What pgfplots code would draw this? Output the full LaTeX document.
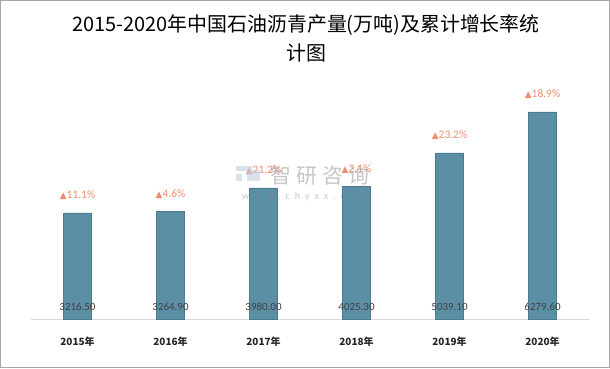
\documentclass[border=0pt]{standalone}
\usepackage{pgfplots}
\pgfplotsset{compat=1.18}
\usepackage{pgfplotstable}
\usepackage{fontspec}
\setmainfont{Carlito}
\newfontfamily\cjk{Noto Sans CJK SC}
\newfontfamily\sym{DejaVu Sans}
\definecolor{barc}{RGB}{91,143,166}
\definecolor{growc}{RGB}{240,140,110}
\definecolor{valc}{RGB}{64,64,64}
\definecolor{framec}{RGB}{166,166,166}
\definecolor{axc}{RGB}{217,217,217}
\definecolor{logoc}{RGB}{190,205,225}
\pgfplotstableread{
x v g
0 3216.5 11.1
1 3264.9 4.6
2 3980.0 21.2
3 4025.3 2.1
4 5039.1 23.2
5 6279.6 18.9
}\data
\begin{document}
\begin{tikzpicture}[x=1bp,y=1bp]
\draw[framec, line width=1bp] (0.5,-0.5) rectangle (609.5,-367.5);
\node[font=\cjk\fontsize{20}{22}\selectfont, text=black] at (306,-25) {2015-2020年中国石油沥青产量(万吨)及累计增长率统};
\node[font=\cjk\fontsize{20}{22}\selectfont, text=black] at (306,-53) {计图};
\begin{axis}[
  at={(31bp,-319bp)}, anchor=south west,
  scale only axis, width=558bp, height=247.3bp,
  xmin=-0.5, xmax=5.5, ymin=0, ymax=7500,
  axis x line*=bottom, axis y line=none,
  x axis line style={draw=axc, line width=1bp, -},
  xtick={0,1,2,3,4,5}, major tick length=0pt,
  xticklabels={2015年,2016年,2017年,2018年,2019年,2020年},
  xticklabel style={font=\cjk\bfseries\fontsize{10}{12}\selectfont, text=black!85, anchor=base, yshift=-26bp},
  /pgf/number format/assume math mode=true,
  clip=false,
]
\addplot[ybar, bar width=28bp, fill=barc, draw=barc!85!black,
  nodes near coords={{\sym\fontsize{9}{10}\selectfont ▲}\pgfmathprintnumber[fixed,precision=1,fixed zerofill,assume math mode=true]{\pgfplotspointmeta}\%},
  point meta=\thisrow{g},
  every node near coord/.append style={font=\fontsize{11.5}{12}\selectfont, text=growc, anchor=base, inner sep=0pt, yshift=14bp}
] table[x=x, y=v] {\data};
\addplot[draw=none, mark=none,
  nodes near coords={\pgfmathprintnumber[fixed,precision=2,fixed zerofill,1000 sep={},assume math mode=true]{\pgfplotspointmeta}},
  point meta=\thisrow{v},
  every node near coord/.append style={font=\fontsize{11}{12}\selectfont, text=valc, anchor=base, inner sep=0pt, yshift=9bp}
] table[x=x, y expr=0] {\data};
\end{axis}
\fill[logoc, opacity=0.6] (236,-166) rectangle (252,-171);
\fill[logoc, opacity=0.6] (236,-174) rectangle (242,-181);
\fill[logoc, opacity=0.6] (247,-170) rectangle (260,-181);
\node[font=\cjk\fontsize{21}{24}\selectfont, text=gray, opacity=0.45] at (320,-176) {智\kern5bp 研\kern5bp 咨\kern5bp 询};
\node[font=\fontsize{10}{10}\selectfont, text=gray, opacity=0.45] at (305,-197) {w\,\,\,w\,\,\,w\,\,\,.\,\,\,c\,\,\,h\,\,\,y\,\,\,x\,\,\,x\,\,\,.\,\,\,c\,\,\,o\,\,\,m};
\end{tikzpicture}
\end{document}
